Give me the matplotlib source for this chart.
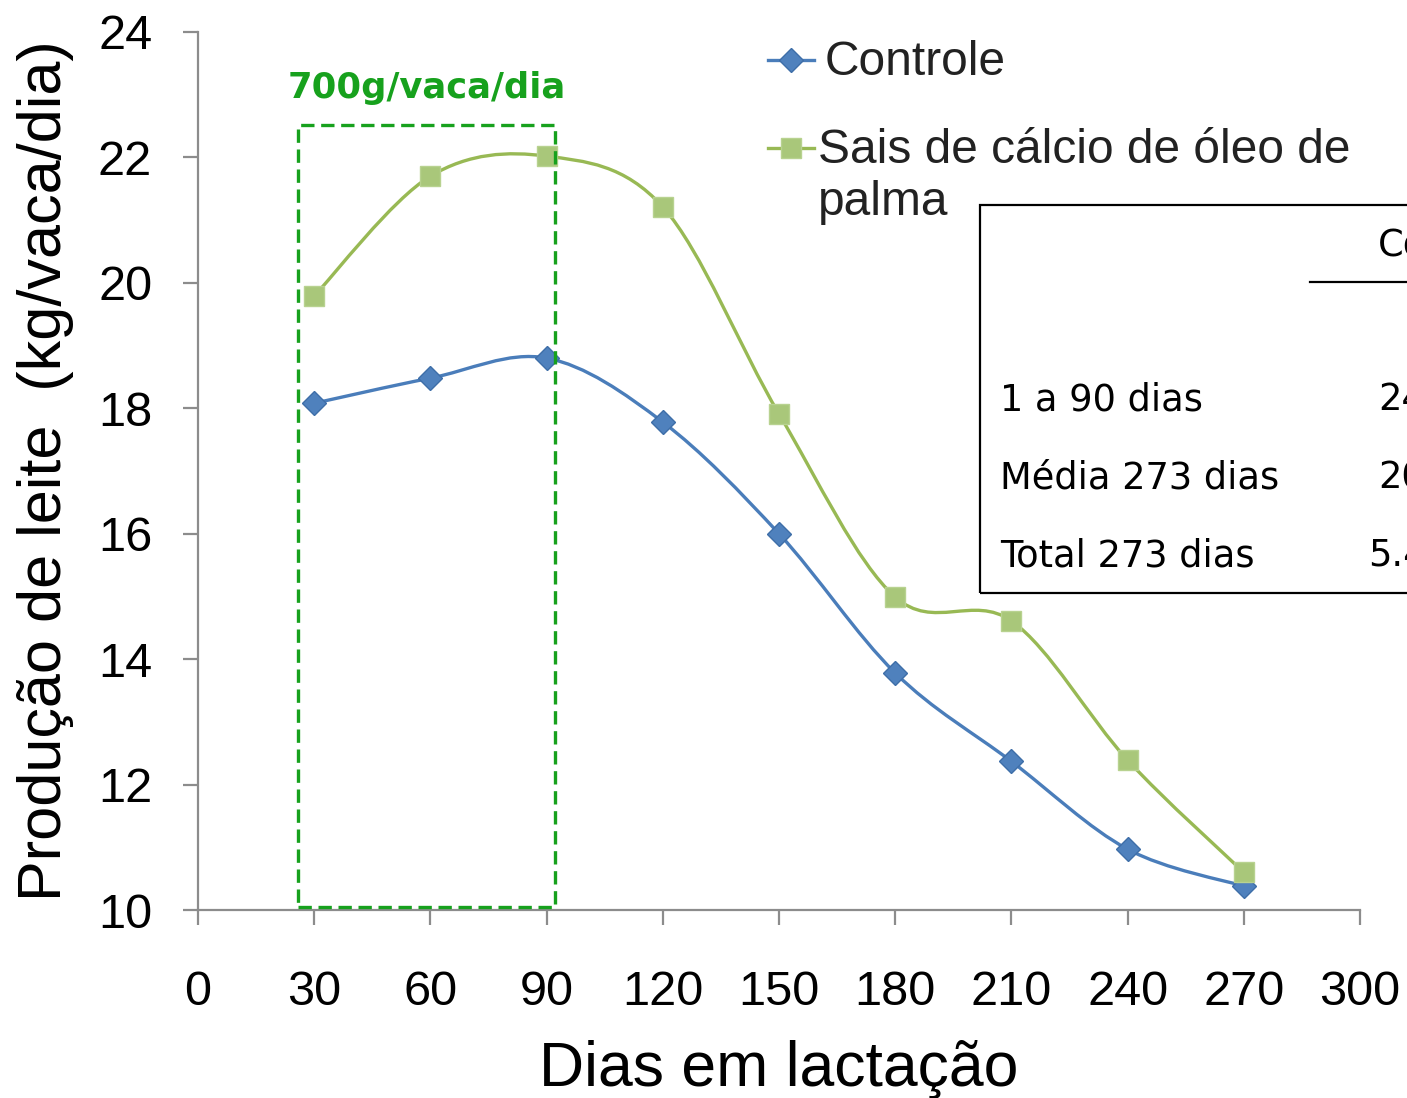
import matplotlib
matplotlib.use("Agg")
import matplotlib.pyplot as plt
import numpy as np
from matplotlib.path import Path
from matplotlib.patches import PathPatch, Rectangle
from matplotlib.lines import Line2D

# dados
dias = [30, 60, 90, 120, 150, 180, 210, 240, 270]
controle = [18.08, 18.48, 18.80, 17.78, 16.00, 13.78, 12.37, 10.97, 10.38]
sais_ca = [19.79, 21.70, 22.02, 21.21, 17.91, 14.99, 14.61, 12.39, 10.60]

serie_nomes = ["Controle", "Sais de cálcio de óleo de\npalma"]
tabela_linhas = ["1 a 90 dias", "Média 273 dias", "Total 273 dias"]
tabela_controle = ["24,2", "20,1", "5.487"]

azul_linha, azul_marca = "#4A7DBA", "#4F81BD"
verde_linha, verde_marca = "#98B954", "#A9C77A"
verde_caixa = "#17A11D"
cinza = "#8C8C8C"


def curva_suave(x, y):
    # curva de Bezier no estilo "linha suavizada" do Excel
    pts = np.column_stack([np.asarray(x, float), np.asarray(y, float)])
    verts = [pts[0]]
    codes = [Path.MOVETO]
    n = len(pts)
    for i in range(n - 1):
        p0 = pts[i - 1] if i > 0 else pts[i]
        p1 = pts[i]
        p2 = pts[i + 1]
        p3 = pts[i + 2] if i + 2 < n else pts[i + 1]
        verts += [p1 + (p2 - p0) / 6, p2 - (p3 - p1) / 6, p2]
        codes += [Path.CURVE4] * 3
    return Path(verts, codes)


plt.rcParams["font.family"] = ["Liberation Sans", "DejaVu Sans"]

W, H = 1407.0, 1098.0
fig = plt.figure(figsize=(W / 100, H / 100), dpi=100)
ax = fig.add_axes([0.1407, 0.1712, 0.8259, 0.7997])

estilo_ctrl = dict(marker="D", ms=12, mfc=azul_marca, mec="#3E6EA8")
estilo_sais = dict(marker="s", ms=14, mfc=verde_marca, mec="#B8D290")

ax.add_patch(PathPatch(curva_suave(dias, controle), fill=False, lw=2.4,
                       edgecolor=azul_linha, zorder=3))
ax.add_patch(PathPatch(curva_suave(dias, sais_ca), fill=False, lw=2.4,
                       edgecolor=verde_linha, zorder=3))
ax.plot(dias, controle, ls="none", zorder=4, **estilo_ctrl)
ax.plot(dias, sais_ca, ls="none", zorder=4, **estilo_sais)

# caixa tracejada dos primeiros 90 dias
ax.add_patch(Rectangle((25.8, 10.05), 66.4, 12.47, fill=False, ls=(0, (4, 2)),
                       lw=2.4, edgecolor=verde_caixa, zorder=5))
ax.text(59, 23.1, "700g/vaca/dia", color=verde_caixa, fontsize=25.5,
        fontweight="bold", family="DejaVu Sans", ha="center", va="center")

ax.set_xlim(0, 300)
ax.set_ylim(10, 24)
ax.set_xticks(range(0, 301, 30))
ax.set_yticks(range(10, 25, 2))
for s in ["top", "right"]:
    ax.spines[s].set_visible(False)
for s in ["left", "bottom"]:
    ax.spines[s].set_color(cinza)
    ax.spines[s].set_linewidth(1.6)
ax.tick_params(axis="x", direction="out", length=11, width=1.6, color=cinza,
               labelsize=35, pad=32)
ax.tick_params(axis="y", direction="out", length=11, width=1.6, color=cinza,
               labelsize=35, pad=22)
ax.set_xlabel("Dias em lactação", fontsize=45, labelpad=18)
ax.set_ylabel("Produção de leite  (kg/vaca/dia)", fontsize=44, labelpad=17)

# legenda desenhada a mao (marcador alinhado com a primeira linha)
leg_y = [60, 148]
leg_x = [825, 818]
for (nome, est, cor, yl, xl) in zip(serie_nomes, [estilo_ctrl, estilo_sais],
                                    [azul_linha, verde_linha], leg_y, leg_x):
    yf = 1 - yl / H
    fig.lines.append(Line2D([768 / W, 791 / W, 814 / W], [yf, yf, yf],
                            transform=fig.transFigure, color=cor, lw=2.4,
                            markevery=[1], **est))
    fig.text(xl / W, 1 - (yl - 20) / H, nome, fontsize=34.5, ha="left",
             va="top", linespacing=1.2, color="#222222")

# tabela (cortada na borda direita, como na figura original)
fig.patches.append(Rectangle((980 / W, 1 - 593 / H), 600 / W, 388 / H,
                             transform=fig.transFigure, fill=False,
                             edgecolor="black", lw=1.6, zorder=6))
fig.lines.append(Line2D([1310 / W, 1.2], [1 - 282 / H, 1 - 282 / H],
                        transform=fig.transFigure, color="black", lw=1.6))
fonte_tab = dict(fontsize=26.5, family="DejaVu Sans", va="center")
fig.text(1378 / W, 1 - 245 / H, "Controle", ha="left", **fonte_tab)
for i, (nome, val) in enumerate(zip(tabela_linhas, tabela_controle)):
    yy = 1 - (400 + 78 * i) / H
    fig.text(1000 / W, yy, nome, ha="left", **fonte_tab)
    fig.text((1378 if i < 2 else 1368) / W, yy, val, ha="left", **fonte_tab)

fig.savefig("out.png", dpi=100)
